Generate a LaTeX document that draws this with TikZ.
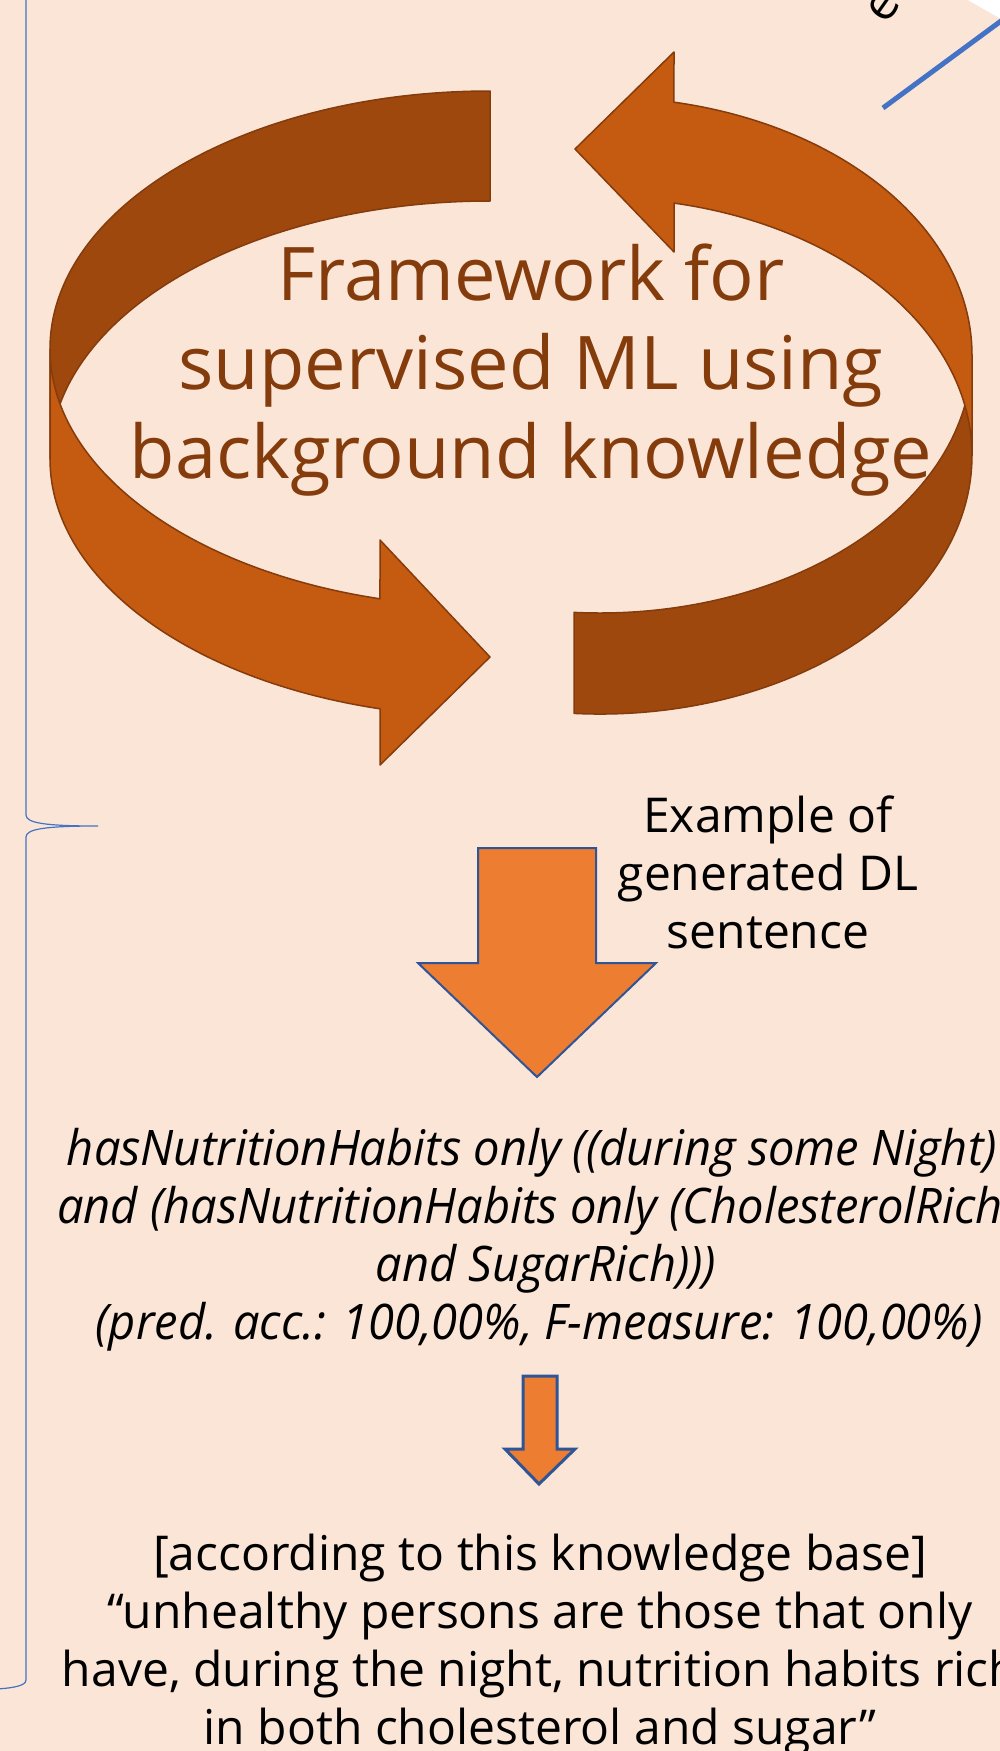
\documentclass[tikz,border=0pt]{standalone}
\usepackage{fontspec}
\setmainfont{Open Sans}
\newfontfamily\dlfont[FakeStretch=0.96]{Open Sans}

\definecolor{pagebg}{HTML}{FBE5D6}
\definecolor{ribbondark}{HTML}{9E480E}
\definecolor{ribbonlight}{HTML}{C55A11}
\definecolor{ribbonedge}{HTML}{843C0C}
\definecolor{titlebrown}{HTML}{843C0C}
\definecolor{arroworange}{HTML}{ED7D31}
\definecolor{arrowblue}{HTML}{2F5597}
\definecolor{leaderblue}{HTML}{4472C4}

\begin{document}
\begin{tikzpicture}[x=1pt,y=1pt,
  ribbonback/.style={fill=ribbondark, draw=ribbonedge, line width=1.5, line join=round},
  ribbonfront/.style={fill=ribbonlight, draw=ribbonedge, line width=1.5, line join=round},
  blockarrow/.style={fill=arroworange, draw=arrowblue, line join=miter},
  titleline/.style={anchor=base, inner sep=0, text=titlebrown, font=\fontsize{74}{89}\selectfont},
  plainline/.style={anchor=base, inner sep=0, font=\fontsize{48}{58}\selectfont},
  dlline/.style={anchor=base, inner sep=0, font=\dlfont\itshape\fontsize{49}{58}\selectfont},
  bracestyle/.style={draw=leaderblue, line width=1.2},
]
% page
\useasboundingbox (0,0) rectangle (1000,-1751);
\clip (0,0) rectangle (1000,-1751);
\fill[pagebg] (0,0) rectangle (1000,-1751);
\fill[white] (966,1) -- (1001,1) -- (1001,-19) -- cycle;

% leader line with its label running off the top edge
\coordinate (leaderfoot) at (883,-108);
\coordinate (leadertop) at (1020,-7);
\draw[leaderblue, line width=5] (leaderfoot) -- (leadertop);
\node[rotate=55, inner sep=0, font=\fontsize{48}{58}\selectfont] (toplabel) at (884,-7) {e};

% brace on the left edge
\draw[bracestyle] (26,5) -- (26,-815)
  .. controls (26,-823) and (45,-826) .. (98,-826)
  .. controls (45,-826) and (26,-829) .. (26,-837)
  -- (26,-1680)
  .. controls (26,-1686) and (12,-1688) .. (-3,-1689);

% circular ribbon arrows: back faces first, then front faces
\def\rxL{440}\def\ryL{258}
\def\rxR{372}\def\ryR{258}
% left ribbon, back (upper-left arc)
\path[ribbonback] (490,-91)
  arc[start angle=90, end angle=180, x radius=\rxL, y radius=\ryL]
  -- (50,-459)
  arc[start angle=180, end angle=90, x radius=\rxL, y radius=\ryL]
  -- cycle;
% right ribbon, back (lower-right arc)
\path[ribbonback] (574,-713.4)
  arc[start angle=266, end angle=360, x radius=\rxR, y radius=\ryR]
  -- (972,-355)
  arc[start angle=360, end angle=266, x radius=\rxR, y radius=\ryR]
  -- cycle;
% left ribbon, front with head pointing right
\path[ribbonfront] (50,-349)
  arc[start angle=180, end angle=255.52, x radius=\rxL, y radius=\ryL]
  -- (380,-540) -- (490,-657) -- (380,-765) -- (380,-708.8)
  arc[start angle=255.52, end angle=180, x radius=\rxL, y radius=\ryL]
  -- cycle;
% right ribbon, front with head pointing left
\path[ribbonfront] (972,-355)
  arc[start angle=0, end angle=78.53, x radius=\rxR, y radius=\ryR]
  -- (674,-52) -- (575,-149) -- (674,-252) -- (674,-203.1)
  arc[start angle=78.53, end angle=0, x radius=\rxR, y radius=\ryR]
  -- cycle;

% title inside the cycle
\node[titleline] (title1) at (531,-300) {Framework for};
\node[titleline] (title2) at (531,-389) {supervised ML using};
\node[titleline] (title3) at (531,-478) {background knowledge};

% large block arrow and its caption
\path[blockarrow, line width=2] (478,-848) -- (596,-848) -- (596,-963) -- (656,-963)
  -- (537,-1077) -- (418,-963) -- (478,-963) -- cycle;
\node[plainline] (cap1) at (768,-832) {Example of};
\node[plainline] (cap2) at (768,-890) {generated DL};
\node[plainline] (cap3) at (768,-948) {sentence};

% generated description-logic sentence
\node[dlline] (dl1) at (532,-1165) {hasNutritionHabits only ((during some Night)};
\node[dlline] (dl2) at (530,-1223) {and (hasNutritionHabits only (CholesterolRich};
\node[dlline] (dl3) at (546,-1281) {and SugarRich)))};
\node[dlline] (dl4) at (539,-1339) {(pred. acc.: 100,00\%, F-measure: 100,00\%)};

% small block arrow
\path[blockarrow, line width=3] (523,-1376) -- (557,-1376) -- (557,-1449) -- (575,-1449)
  -- (539,-1484) -- (505,-1449) -- (523,-1449) -- cycle;

% natural-language reading
\node[plainline] (nl1) at (540,-1570) {[according to this knowledge base]};
\node[plainline] (nl2) at (540,-1628) {“unhealthy persons are those that only};
\node[plainline] (nl3) at (540,-1686) {have, during the night, nutrition habits rich};
\node[plainline] (nl4) at (540,-1744) {in both cholesterol and sugar”};
\end{tikzpicture}
\end{document}
